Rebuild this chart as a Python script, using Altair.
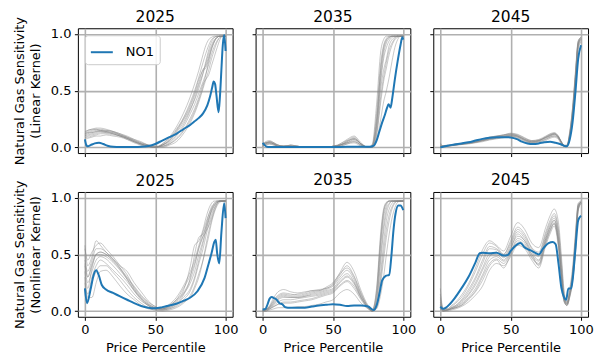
import altair as alt
import pandas as pd

# ---------------- data ----------------
X = [0, 2, 5, 8, 11, 15, 20, 25, 30, 35, 40, 45, 50, 55, 60, 65, 70, 75, 78, 81, 84, 86, 88, 90, 92, 94, 96, 98, 100]

TITLES = ["2025", "2035", "2045", "2025", "2035", "2045"]
KERNELS = ["Linear Kernel", "Nonlinear Kernel"]
LEGEND_NAME = "NO1"

GRAY_LIN_2025 = [
    [0.12, 0.14, 0.15, 0.16, 0.16, 0.15, 0.14, 0.12, 0.09, 0.06, 0.03, 0.01, 0.00, 0.02, 0.06, 0.13, 0.22, 0.34, 0.42, 0.52, 0.65, 0.74, 0.83, 0.90, 0.95, 0.97, 0.98, 0.98, 0.98],
    [0.10, 0.12, 0.13, 0.14, 0.15, 0.15, 0.14, 0.12, 0.10, 0.07, 0.04, 0.02, 0.00, 0.03, 0.08, 0.16, 0.26, 0.40, 0.50, 0.62, 0.75, 0.83, 0.90, 0.95, 0.97, 0.98, 0.98, 0.98, 0.98],
    [0.08, 0.10, 0.11, 0.12, 0.13, 0.13, 0.12, 0.10, 0.08, 0.05, 0.03, 0.01, 0.00, 0.01, 0.04, 0.10, 0.18, 0.30, 0.38, 0.48, 0.58, 0.65, 0.73, 0.82, 0.89, 0.94, 0.97, 0.98, 0.98],
    [0.13, 0.15, 0.16, 0.17, 0.17, 0.16, 0.14, 0.11, 0.08, 0.05, 0.02, 0.01, 0.00, 0.02, 0.07, 0.15, 0.25, 0.38, 0.48, 0.60, 0.68, 0.70, 0.78, 0.87, 0.93, 0.97, 0.98, 0.98, 0.98],
    [0.09, 0.09, 0.10, 0.11, 0.12, 0.12, 0.11, 0.10, 0.08, 0.06, 0.04, 0.02, 0.01, 0.00, 0.02, 0.05, 0.12, 0.22, 0.30, 0.40, 0.52, 0.60, 0.68, 0.78, 0.86, 0.93, 0.97, 0.98, 0.98],
    [0.11, 0.13, 0.14, 0.15, 0.15, 0.14, 0.13, 0.11, 0.09, 0.06, 0.03, 0.01, 0.00, 0.03, 0.09, 0.18, 0.30, 0.45, 0.56, 0.68, 0.82, 0.90, 0.95, 0.97, 0.98, 0.98, 0.98, 0.98, 0.98],
    [0.07, 0.08, 0.09, 0.10, 0.10, 0.11, 0.10, 0.09, 0.07, 0.05, 0.03, 0.02, 0.01, 0.01, 0.03, 0.08, 0.15, 0.26, 0.34, 0.44, 0.56, 0.60, 0.64, 0.72, 0.80, 0.88, 0.95, 0.98, 0.98],
    [0.14, 0.15, 0.16, 0.16, 0.15, 0.14, 0.12, 0.10, 0.07, 0.04, 0.02, 0.00, 0.00, 0.02, 0.05, 0.11, 0.20, 0.33, 0.43, 0.55, 0.66, 0.76, 0.86, 0.93, 0.97, 0.98, 0.98, 0.98, 0.98],
    [0.10, 0.11, 0.12, 0.13, 0.14, 0.14, 0.13, 0.11, 0.09, 0.07, 0.05, 0.02, 0.01, 0.01, 0.03, 0.07, 0.14, 0.24, 0.32, 0.42, 0.54, 0.64, 0.76, 0.86, 0.93, 0.97, 0.98, 0.98, 0.98],
    [0.12, 0.13, 0.13, 0.14, 0.14, 0.13, 0.12, 0.10, 0.08, 0.05, 0.03, 0.01, 0.00, 0.02, 0.06, 0.14, 0.24, 0.36, 0.46, 0.57, 0.69, 0.72, 0.80, 0.88, 0.94, 0.97, 0.98, 0.98, 0.98],
]
NO1_X_LIN_2025 = [0, 1, 2, 4, 7, 10, 13, 16, 20, 25, 30, 35, 40, 45, 50, 55, 60, 65, 70, 75, 78, 81, 84, 87, 89, 90.5, 91.5, 92.5, 93.5, 95, 96, 97, 98, 99, 100]
NO1_Y_LIN_2025 = [0.07, 0.02, 0.01, 0.02, 0.035, 0.04, 0.03, 0.015, 0.005, 0.003, 0.003, 0.003, 0.005, 0.012, 0.03, 0.06, 0.09, 0.12, 0.16, 0.20, 0.23, 0.26, 0.30, 0.37, 0.45, 0.53, 0.58, 0.56, 0.46, 0.31, 0.45, 0.68, 0.90, 0.99, 0.85]

GRAY_LIN_2035 = [
    [0.02, 0.04, 0.05, 0.03, 0.01, 0.01, 0.01, 0.00, 0.00, 0.00, 0.00, 0.00, 0.01, 0.02, 0.05, 0.08, 0.03, 0.00, 0.02, 0.30, 0.75, 0.90, 0.96, 0.98, 0.98, 0.98, 0.98, 0.98, 0.98],
    [0.01, 0.03, 0.04, 0.03, 0.01, 0.01, 0.02, 0.01, 0.00, 0.00, 0.00, 0.00, 0.01, 0.02, 0.04, 0.06, 0.02, 0.00, 0.01, 0.20, 0.62, 0.82, 0.92, 0.96, 0.98, 0.98, 0.98, 0.98, 0.98],
    [0.02, 0.05, 0.06, 0.04, 0.02, 0.01, 0.01, 0.01, 0.00, 0.00, 0.00, 0.00, 0.00, 0.03, 0.07, 0.10, 0.04, 0.00, 0.03, 0.38, 0.85, 0.95, 0.98, 0.98, 0.98, 0.98, 0.98, 0.98, 0.98],
    [0.01, 0.02, 0.03, 0.02, 0.01, 0.00, 0.01, 0.00, 0.00, 0.00, 0.00, 0.00, 0.00, 0.01, 0.03, 0.05, 0.02, 0.00, 0.00, 0.10, 0.40, 0.58, 0.70, 0.82, 0.90, 0.95, 0.97, 0.98, 0.98],
    [0.03, 0.04, 0.04, 0.03, 0.02, 0.01, 0.02, 0.01, 0.00, 0.00, 0.00, 0.00, 0.01, 0.02, 0.04, 0.07, 0.03, 0.00, 0.01, 0.15, 0.52, 0.68, 0.78, 0.90, 0.95, 0.97, 0.98, 0.98, 0.98],
    [0.01, 0.03, 0.05, 0.04, 0.01, 0.00, 0.01, 0.00, 0.00, 0.00, 0.00, 0.00, 0.00, 0.01, 0.03, 0.04, 0.01, 0.00, 0.00, 0.06, 0.25, 0.40, 0.50, 0.62, 0.76, 0.88, 0.95, 0.98, 0.98],
    [0.02, 0.04, 0.04, 0.03, 0.01, 0.01, 0.01, 0.01, 0.00, 0.00, 0.00, 0.00, 0.01, 0.02, 0.06, 0.09, 0.03, 0.00, 0.02, 0.25, 0.68, 0.86, 0.94, 0.97, 0.98, 0.98, 0.98, 0.98, 0.98],
    [0.02, 0.03, 0.04, 0.03, 0.02, 0.01, 0.01, 0.00, 0.00, 0.00, 0.00, 0.00, 0.01, 0.03, 0.06, 0.07, 0.03, 0.00, 0.01, 0.22, 0.70, 0.88, 0.95, 0.97, 0.98, 0.98, 0.98, 0.98, 0.98],
    [0.01, 0.02, 0.03, 0.02, 0.01, 0.01, 0.01, 0.00, 0.00, 0.00, 0.00, 0.00, 0.00, 0.02, 0.04, 0.05, 0.02, 0.00, 0.00, 0.12, 0.45, 0.62, 0.75, 0.86, 0.92, 0.96, 0.98, 0.98, 0.98],
    [0.02, 0.04, 0.05, 0.04, 0.02, 0.01, 0.02, 0.01, 0.00, 0.00, 0.00, 0.00, 0.01, 0.02, 0.05, 0.08, 0.03, 0.00, 0.01, 0.18, 0.58, 0.78, 0.88, 0.94, 0.97, 0.98, 0.98, 0.98, 0.98],
]
NO1_X_LIN_2035 = [0, 1.5, 3, 5, 10, 20, 30, 40, 50, 60, 70, 76, 79, 81, 83, 85, 87, 88.5, 89.5, 91, 92, 94, 96, 98, 99.3, 100]
NO1_Y_LIN_2035 = [0.04, 0.02, 0.005, 0.003, 0.003, 0.003, 0.003, 0.003, 0.003, 0.005, 0.005, 0.005, 0.015, 0.06, 0.14, 0.22, 0.29, 0.35, 0.38, 0.35, 0.42, 0.60, 0.76, 0.90, 0.97, 0.95]

GRAY_LIN_2045 = [
    [0.00, 0.01, 0.015, 0.02, 0.025, 0.03, 0.04, 0.05, 0.065, 0.08, 0.09, 0.10, 0.11, 0.10, 0.07, 0.05, 0.06, 0.09, 0.11, 0.12, 0.09, 0.05, 0.01, 0.01, 0.10, 0.28, 0.58, 0.90, 0.95],
    [0.04, 0.01, 0.01, 0.015, 0.02, 0.025, 0.035, 0.045, 0.06, 0.07, 0.08, 0.09, 0.10, 0.09, 0.06, 0.04, 0.05, 0.07, 0.09, 0.10, 0.08, 0.04, 0.01, 0.01, 0.12, 0.32, 0.62, 0.92, 0.96],
    [0.01, 0.015, 0.02, 0.025, 0.03, 0.035, 0.045, 0.055, 0.07, 0.09, 0.10, 0.11, 0.12, 0.11, 0.08, 0.06, 0.07, 0.10, 0.12, 0.13, 0.10, 0.05, 0.02, 0.02, 0.14, 0.35, 0.66, 0.94, 0.97],
    [0.00, 0.01, 0.01, 0.015, 0.02, 0.025, 0.03, 0.04, 0.05, 0.065, 0.075, 0.085, 0.095, 0.08, 0.05, 0.035, 0.04, 0.06, 0.08, 0.09, 0.07, 0.03, 0.01, 0.01, 0.09, 0.25, 0.55, 0.88, 0.94],
    [0.02, 0.01, 0.015, 0.02, 0.025, 0.03, 0.04, 0.05, 0.06, 0.08, 0.095, 0.105, 0.115, 0.10, 0.07, 0.05, 0.06, 0.085, 0.10, 0.11, 0.085, 0.045, 0.015, 0.015, 0.11, 0.30, 0.60, 0.91, 0.96],
    [0.00, 0.005, 0.01, 0.015, 0.02, 0.03, 0.035, 0.045, 0.06, 0.075, 0.085, 0.095, 0.105, 0.095, 0.065, 0.045, 0.055, 0.08, 0.10, 0.115, 0.09, 0.05, 0.015, 0.01, 0.08, 0.24, 0.52, 0.86, 0.93],
    [0.01, 0.01, 0.015, 0.02, 0.03, 0.035, 0.045, 0.06, 0.075, 0.09, 0.10, 0.11, 0.125, 0.115, 0.085, 0.06, 0.065, 0.095, 0.115, 0.125, 0.095, 0.05, 0.015, 0.02, 0.13, 0.34, 0.64, 0.93, 0.97],
    [0.01, 0.01, 0.012, 0.018, 0.022, 0.028, 0.038, 0.048, 0.062, 0.078, 0.088, 0.098, 0.108, 0.098, 0.068, 0.048, 0.058, 0.088, 0.105, 0.118, 0.088, 0.045, 0.012, 0.012, 0.10, 0.29, 0.60, 0.91, 0.96],
    [0.03, 0.01, 0.015, 0.02, 0.028, 0.033, 0.042, 0.052, 0.068, 0.085, 0.098, 0.108, 0.118, 0.105, 0.075, 0.055, 0.062, 0.09, 0.108, 0.12, 0.092, 0.048, 0.015, 0.015, 0.12, 0.33, 0.63, 0.93, 0.97],
    [0.00, 0.008, 0.012, 0.016, 0.022, 0.027, 0.034, 0.043, 0.056, 0.07, 0.082, 0.092, 0.10, 0.088, 0.058, 0.04, 0.048, 0.072, 0.09, 0.10, 0.078, 0.038, 0.01, 0.01, 0.09, 0.26, 0.56, 0.89, 0.95],
]
NO1_X_LIN_2045 = [0, 2, 5, 10, 15, 20, 25, 30, 35, 40, 45, 50, 55, 58, 62, 66, 70, 74, 78, 82, 85, 87, 89, 90, 92, 94, 96, 98, 100]
NO1_Y_LIN_2045 = [0.0, 0.005, 0.015, 0.025, 0.035, 0.045, 0.06, 0.075, 0.085, 0.09, 0.09, 0.088, 0.07, 0.05, 0.035, 0.03, 0.035, 0.045, 0.05, 0.04, 0.03, 0.02, 0.01, 0.01, 0.07, 0.22, 0.48, 0.78, 0.90]

GRAY_NL_2025 = [
    [0.55, 0.45, 0.52, 0.58, 0.60, 0.55, 0.48, 0.40, 0.32, 0.20, 0.12, 0.06, 0.03, 0.03, 0.06, 0.12, 0.22, 0.35, 0.45, 0.58, 0.70, 0.78, 0.85, 0.90, 0.94, 0.96, 0.97, 0.97, 0.97],
    [0.35, 0.20, 0.38, 0.50, 0.52, 0.50, 0.45, 0.38, 0.30, 0.22, 0.14, 0.08, 0.04, 0.02, 0.04, 0.08, 0.15, 0.25, 0.35, 0.50, 0.62, 0.72, 0.80, 0.88, 0.93, 0.96, 0.97, 0.97, 0.97],
    [0.25, 0.15, 0.30, 0.40, 0.45, 0.42, 0.36, 0.30, 0.23, 0.15, 0.09, 0.05, 0.02, 0.01, 0.02, 0.05, 0.10, 0.18, 0.28, 0.42, 0.55, 0.66, 0.76, 0.85, 0.91, 0.95, 0.97, 0.97, 0.97],
    [0.45, 0.35, 0.45, 0.55, 0.55, 0.52, 0.46, 0.40, 0.35, 0.25, 0.17, 0.09, 0.04, 0.02, 0.03, 0.07, 0.14, 0.30, 0.50, 0.65, 0.68, 0.75, 0.85, 0.92, 0.95, 0.97, 0.97, 0.97, 0.97],
    [0.30, 0.12, 0.12, 0.25, 0.35, 0.36, 0.30, 0.22, 0.15, 0.10, 0.05, 0.02, 0.01, 0.00, 0.01, 0.03, 0.07, 0.14, 0.22, 0.33, 0.45, 0.55, 0.66, 0.78, 0.87, 0.93, 0.96, 0.97, 0.97],
    [0.50, 0.30, 0.42, 0.50, 0.50, 0.48, 0.43, 0.36, 0.28, 0.19, 0.11, 0.05, 0.02, 0.02, 0.05, 0.10, 0.18, 0.40, 0.58, 0.62, 0.72, 0.82, 0.90, 0.95, 0.97, 0.97, 0.97, 0.97, 0.97],
    [0.40, 0.25, 0.35, 0.45, 0.48, 0.46, 0.40, 0.33, 0.26, 0.18, 0.11, 0.06, 0.03, 0.01, 0.03, 0.06, 0.12, 0.20, 0.30, 0.45, 0.60, 0.70, 0.75, 0.82, 0.90, 0.95, 0.97, 0.97, 0.97],
    [0.58, 0.40, 0.48, 0.62, 0.58, 0.52, 0.46, 0.38, 0.28, 0.18, 0.10, 0.05, 0.02, 0.02, 0.05, 0.10, 0.20, 0.32, 0.42, 0.55, 0.66, 0.74, 0.82, 0.88, 0.93, 0.96, 0.97, 0.97, 0.97],
    [0.20, 0.10, 0.25, 0.35, 0.40, 0.40, 0.34, 0.27, 0.19, 0.12, 0.07, 0.03, 0.01, 0.01, 0.02, 0.04, 0.08, 0.12, 0.20, 0.30, 0.45, 0.58, 0.70, 0.80, 0.88, 0.94, 0.97, 0.97, 0.97],
    [0.42, 0.30, 0.40, 0.50, 0.52, 0.50, 0.44, 0.37, 0.29, 0.21, 0.13, 0.07, 0.03, 0.02, 0.04, 0.09, 0.16, 0.28, 0.40, 0.56, 0.66, 0.70, 0.80, 0.90, 0.95, 0.97, 0.97, 0.97, 0.97],
]
NO1_X_NL_2025 = [0, 1.5, 4, 6, 8, 10, 12, 15, 20, 25, 30, 35, 40, 45, 50, 55, 60, 65, 70, 75, 80, 85, 88, 90, 92, 93, 94, 95.5, 97, 99, 100]
NO1_Y_NL_2025 = [0.20, 0.07, 0.19, 0.31, 0.36, 0.31, 0.23, 0.19, 0.16, 0.13, 0.10, 0.07, 0.045, 0.03, 0.025, 0.035, 0.05, 0.065, 0.09, 0.12, 0.175, 0.29, 0.42, 0.51, 0.61, 0.63, 0.51, 0.42, 0.69, 0.95, 0.82]

GRAY_NL_2035 = [
    [0.00, 0.01, 0.05, 0.12, 0.17, 0.19, 0.17, 0.16, 0.17, 0.18, 0.19, 0.20, 0.24, 0.34, 0.43, 0.35, 0.18, 0.05, 0.01, 0.20, 0.70, 0.90, 0.96, 0.97, 0.97, 0.97, 0.97, 0.97, 0.97],
    [0.00, 0.01, 0.03, 0.08, 0.12, 0.14, 0.13, 0.13, 0.14, 0.16, 0.17, 0.19, 0.22, 0.30, 0.36, 0.28, 0.14, 0.04, 0.00, 0.10, 0.50, 0.75, 0.90, 0.95, 0.97, 0.97, 0.97, 0.97, 0.97],
    [0.00, 0.00, 0.02, 0.05, 0.08, 0.10, 0.10, 0.11, 0.12, 0.13, 0.14, 0.16, 0.18, 0.25, 0.30, 0.24, 0.12, 0.03, 0.00, 0.05, 0.35, 0.60, 0.80, 0.90, 0.95, 0.97, 0.97, 0.97, 0.97],
    [0.01, 0.01, 0.02, 0.04, 0.06, 0.07, 0.07, 0.08, 0.09, 0.10, 0.12, 0.14, 0.16, 0.22, 0.26, 0.20, 0.10, 0.02, 0.00, 0.03, 0.25, 0.45, 0.65, 0.80, 0.90, 0.95, 0.97, 0.97, 0.97],
    [0.00, 0.01, 0.03, 0.06, 0.10, 0.12, 0.12, 0.12, 0.13, 0.15, 0.16, 0.18, 0.20, 0.28, 0.33, 0.26, 0.13, 0.03, 0.00, 0.12, 0.58, 0.82, 0.93, 0.97, 0.97, 0.97, 0.97, 0.97, 0.97],
    [0.00, 0.00, 0.01, 0.02, 0.03, 0.03, 0.03, 0.04, 0.04, 0.05, 0.06, 0.08, 0.10, 0.16, 0.19, 0.15, 0.07, 0.02, 0.00, 0.02, 0.15, 0.30, 0.50, 0.68, 0.82, 0.91, 0.96, 0.97, 0.97],
    [0.00, 0.01, 0.04, 0.10, 0.14, 0.16, 0.15, 0.14, 0.15, 0.17, 0.18, 0.20, 0.23, 0.32, 0.40, 0.31, 0.16, 0.04, 0.01, 0.15, 0.62, 0.86, 0.95, 0.97, 0.97, 0.97, 0.97, 0.97, 0.97],
    [0.00, 0.01, 0.03, 0.07, 0.11, 0.13, 0.12, 0.12, 0.13, 0.14, 0.15, 0.17, 0.19, 0.26, 0.31, 0.25, 0.12, 0.03, 0.00, 0.08, 0.45, 0.70, 0.86, 0.94, 0.97, 0.97, 0.97, 0.97, 0.97],
    [0.00, 0.00, 0.02, 0.04, 0.06, 0.08, 0.08, 0.09, 0.10, 0.11, 0.13, 0.15, 0.17, 0.23, 0.27, 0.22, 0.11, 0.03, 0.00, 0.04, 0.30, 0.52, 0.72, 0.85, 0.92, 0.96, 0.97, 0.97, 0.97],
    [0.00, 0.01, 0.04, 0.09, 0.13, 0.15, 0.14, 0.15, 0.16, 0.18, 0.18, 0.21, 0.25, 0.33, 0.38, 0.30, 0.15, 0.04, 0.01, 0.18, 0.66, 0.88, 0.95, 0.97, 0.97, 0.97, 0.97, 0.97, 0.97],
]
NO1_X_NL_2035 = [0, 2, 3.5, 5, 6.5, 8, 10, 12, 14, 16, 18, 20, 25, 30, 35, 40, 45, 50, 55, 60, 65, 70, 75, 79, 81, 83, 85, 87.5, 90, 91.5, 93, 94.5, 96.5, 98, 100]
NO1_Y_NL_2035 = [0.015, 0.02, 0.06, 0.11, 0.125, 0.115, 0.10, 0.07, 0.06, 0.035, 0.03, 0.03, 0.03, 0.03, 0.04, 0.05, 0.055, 0.06, 0.055, 0.045, 0.05, 0.05, 0.04, 0.01, 0.05, 0.15, 0.27, 0.31, 0.32, 0.48, 0.71, 0.86, 0.93, 0.93, 0.89]

GRAY_NL_2045 = [
    [0.20, 0.02, 0.02, 0.04, 0.07, 0.12, 0.22, 0.35, 0.50, 0.60, 0.57, 0.50, 0.62, 0.74, 0.68, 0.56, 0.52, 0.70, 0.80, 0.86, 0.72, 0.45, 0.15, 0.06, 0.15, 0.30, 0.60, 0.92, 0.96],
    [0.10, 0.01, 0.01, 0.03, 0.05, 0.09, 0.17, 0.28, 0.42, 0.55, 0.54, 0.48, 0.58, 0.70, 0.64, 0.53, 0.48, 0.66, 0.76, 0.82, 0.66, 0.38, 0.12, 0.08, 0.18, 0.35, 0.65, 0.94, 0.97],
    [0.05, 0.00, 0.01, 0.02, 0.03, 0.06, 0.12, 0.20, 0.32, 0.45, 0.48, 0.44, 0.52, 0.64, 0.60, 0.48, 0.42, 0.62, 0.72, 0.78, 0.60, 0.32, 0.10, 0.06, 0.14, 0.28, 0.55, 0.90, 0.96],
    [0.02, 0.00, 0.00, 0.01, 0.02, 0.04, 0.08, 0.14, 0.22, 0.36, 0.42, 0.40, 0.48, 0.58, 0.55, 0.45, 0.38, 0.58, 0.68, 0.75, 0.55, 0.28, 0.08, 0.05, 0.12, 0.25, 0.50, 0.88, 0.95],
    [0.15, 0.02, 0.02, 0.05, 0.08, 0.14, 0.24, 0.38, 0.54, 0.62, 0.58, 0.53, 0.66, 0.78, 0.72, 0.60, 0.56, 0.74, 0.84, 0.90, 0.78, 0.50, 0.18, 0.08, 0.20, 0.38, 0.68, 0.95, 0.97],
    [0.08, 0.01, 0.01, 0.03, 0.04, 0.08, 0.15, 0.25, 0.38, 0.50, 0.50, 0.45, 0.55, 0.68, 0.62, 0.52, 0.45, 0.64, 0.74, 0.80, 0.64, 0.35, 0.11, 0.07, 0.16, 0.32, 0.62, 0.93, 0.96],
    [0.03, 0.00, 0.01, 0.02, 0.03, 0.05, 0.10, 0.17, 0.27, 0.40, 0.45, 0.38, 0.50, 0.60, 0.57, 0.50, 0.40, 0.60, 0.70, 0.77, 0.58, 0.30, 0.09, 0.05, 0.13, 0.27, 0.52, 0.89, 0.95],
    [0.12, 0.01, 0.01, 0.03, 0.05, 0.10, 0.19, 0.30, 0.45, 0.57, 0.55, 0.50, 0.60, 0.72, 0.66, 0.55, 0.50, 0.68, 0.78, 0.84, 0.70, 0.42, 0.13, 0.07, 0.17, 0.33, 0.63, 0.93, 0.96],
    [0.04, 0.00, 0.01, 0.02, 0.03, 0.05, 0.11, 0.18, 0.30, 0.42, 0.46, 0.42, 0.51, 0.62, 0.58, 0.47, 0.41, 0.61, 0.71, 0.77, 0.59, 0.31, 0.09, 0.05, 0.13, 0.27, 0.53, 0.89, 0.95],
    [0.06, 0.01, 0.01, 0.02, 0.04, 0.07, 0.14, 0.23, 0.36, 0.48, 0.52, 0.47, 0.56, 0.66, 0.62, 0.50, 0.44, 0.64, 0.74, 0.80, 0.62, 0.34, 0.10, 0.06, 0.15, 0.30, 0.58, 0.91, 0.96],
]
NO1_X_NL_2045 = [0, 2, 4, 7, 10, 15, 20, 25, 28, 30, 35, 40, 45, 48, 50, 55, 57, 60, 65, 68, 70, 73, 77, 80, 82, 84, 86, 88, 89.5, 91, 93, 94, 96, 98, 100]
NO1_Y_NL_2045 = [0.04, 0.02, 0.03, 0.065, 0.11, 0.20, 0.30, 0.43, 0.51, 0.515, 0.51, 0.515, 0.49, 0.495, 0.53, 0.59, 0.60, 0.56, 0.53, 0.51, 0.50, 0.55, 0.60, 0.61, 0.59, 0.42, 0.21, 0.12, 0.10, 0.20, 0.20, 0.27, 0.54, 0.80, 0.84]

PANELS = [
    (GRAY_LIN_2025, NO1_X_LIN_2025, NO1_Y_LIN_2025),
    (GRAY_LIN_2035, NO1_X_LIN_2035, NO1_Y_LIN_2035),
    (GRAY_LIN_2045, NO1_X_LIN_2045, NO1_Y_LIN_2045),
    (GRAY_NL_2025, NO1_X_NL_2025, NO1_Y_NL_2025),
    (GRAY_NL_2035, NO1_X_NL_2035, NO1_Y_NL_2035),
    (GRAY_NL_2045, NO1_X_NL_2045, NO1_Y_NL_2045),
]

# ---------------- chart ----------------
FONT = "DejaVu Sans"
BLUE = "#1f77b4"
W, H = 155, 125
TITLE_OFFSET = 3
# the rotated y-axis title of the first column sticks out ~12.5px above the plot
FIRST_COL_TITLE_OFFSET = TITLE_OFFSET - 12.5


def make_panel(idx):
    gray, bx, by = PANELS[idx]
    row, col = divmod(idx, 3)
    gdf = pd.DataFrame(
        [{"x": X[j], "y": v, "run": i} for i, s in enumerate(gray) for j, v in enumerate(s)]
    )
    bdf = pd.DataFrame({"x": bx, "y": by, "zone": LEGEND_NAME})

    if row == 1:
        xax = alt.Axis(values=[0, 50, 100], format="d", title="Price Percentile")
    else:
        xax = alt.Axis(values=[0, 50, 100], labels=False, title=None)
    if col == 0:
        yax = alt.Axis(values=[0, 0.5, 1.0], format=".1f",
                       title=["Natural Gas Sensitivity", f"({KERNELS[row]})"])
    else:
        yax = alt.Axis(values=[0, 0.5, 1.0], labels=False, title=None)

    xenc = alt.X("x:Q", scale=alt.Scale(domain=[-5, 105], nice=False, zero=False), axis=xax)
    yenc = alt.Y("y:Q", scale=alt.Scale(domain=[-0.05, 1.05], nice=False, zero=False), axis=yax)

    grays = alt.Chart(gdf).mark_line(
        stroke="#888888", strokeWidth=0.9, strokeOpacity=0.5, interpolate="monotone"
    ).encode(x=xenc, y=yenc, detail="run:N")

    if idx == 0:
        color = alt.Color(
            "zone:N",
            scale=alt.Scale(domain=[LEGEND_NAME], range=[BLUE]),
            legend=alt.Legend(
                orient="top-left", title=None, offset=7, padding=5,
                strokeColor="#cccccc", fillColor="rgba(255,255,255,0.85)", cornerRadius=3,
                symbolType="stroke", symbolSize=484, symbolStrokeWidth=2,
                labelFont=FONT, labelFontSize=13, labelColor="black", labelOffset=12,
            ),
        )
    else:
        color = alt.value(BLUE)

    blue = alt.Chart(bdf).mark_line(strokeWidth=2, interpolate="monotone").encode(
        x=xenc, y=yenc, color=color
    )
    return alt.layer(grays, blue).properties(
        width=W, height=H,
        title=alt.TitleParams(
            text=TITLES[idx], fontSize=15.5, font=FONT, frame="group",
            fontWeight="normal", color="black",
            offset=FIRST_COL_TITLE_OFFSET if col == 0 else TITLE_OFFSET,
        ),
    )


chart = alt.concat(
    *[make_panel(i) for i in range(6)],
    columns=3, spacing={"row": 39, "column": 23}, bounds="flush",
).resolve_legend(color="independent").properties(
    padding={"left": 5, "top": 1, "right": 5, "bottom": 0}
).configure_view(
    stroke="black", strokeWidth=1
).configure_axis(
    domain=False, grid=True, gridColor="#b0b0b0", gridWidth=1.6,
    tickColor="black", tickSize=3.5, tickWidth=1,
    labelFont=FONT, labelFontSize=13, labelColor="black", labelPadding=3.5,
    titleFont=FONT, titleFontSize=13, titleFontWeight="normal", titleColor="black",
).configure_axisY(
    titlePadding=8, titleLineHeight=15.5
).configure_axisX(
    titlePadding=5
)

chart.save("out.html", embed_options={"renderer": "svg", "actions": False})
